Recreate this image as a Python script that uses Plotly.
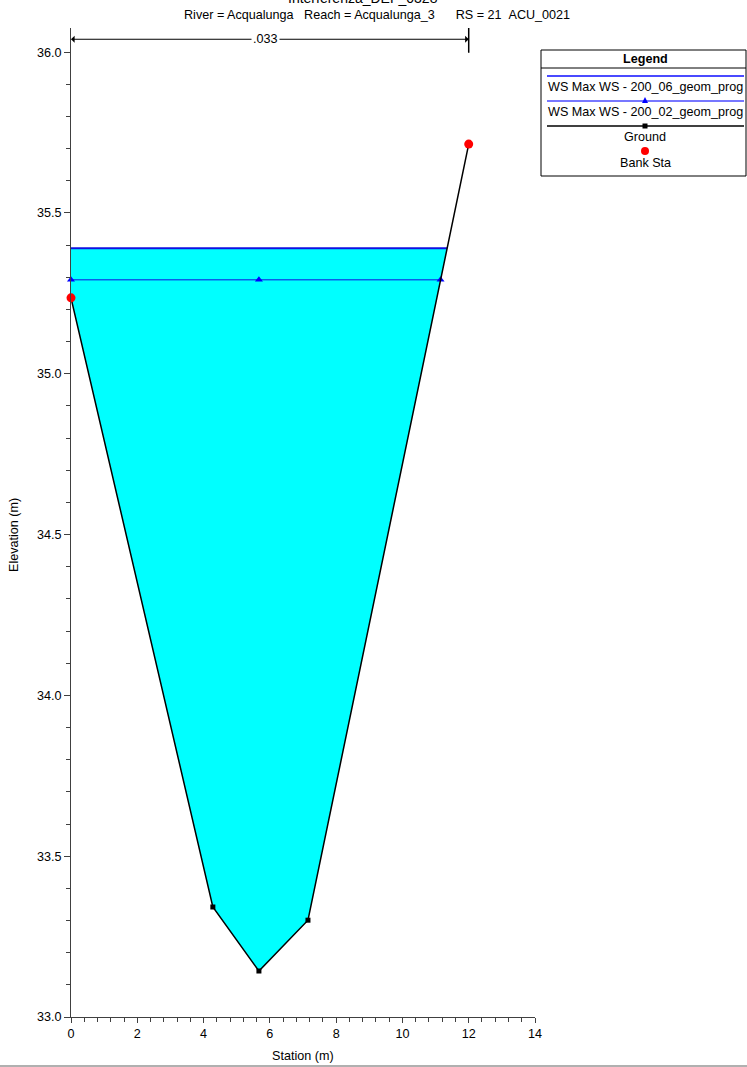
import plotly.graph_objects as go

# ---------------- data ----------------
ground_sta = [0.0, 4.28, 5.67, 7.15, 12.0]
ground_elev = [35.236, 33.342, 33.143, 33.301, 35.714]
bank_sta = [0.0, 12.0]
bank_elev = [35.236, 35.714]
ws06_level = 35.39
ws02_level = 35.292
ws02_marker_sta = [0.0, 5.67, 11.15]
manning_n = ".033"
manning_sta = [0.0, 12.0]

title_top = "Interferenza_DEF_0328"
title_sub = "River = Acqualunga\u00a0\u00a0\u00a0Reach = Acqualunga_3\u00a0\u00a0\u00a0\u00a0\u00a0\u00a0RS = 21\u00a0\u00a0ACU_0021"
legend_names = ["WS Max WS - 200_06_geom_prog", "WS Max WS - 200_02_geom_prog", "Ground", "Bank Sta"]

FONT = "Liberation Sans, Arial, sans-serif"
FS = 12.6
W, H = 747, 1067
L, R, T, B = 71, 535, 28, 1017


def px(x):
    return (x - L) / (R - L)


def py(y):
    return (B - y) / (B - T)


def wet_polygon(sta, elev, ws):
    xs, ys = [], []
    for i in range(len(sta)):
        if elev[i] <= ws:
            xs.append(sta[i]); ys.append(elev[i])
        if i + 1 < len(sta):
            e0, e1 = elev[i], elev[i + 1]
            if (e0 - ws) * (e1 - ws) < 0:
                t = (ws - e0) / (e1 - e0)
                xs.append(sta[i] + t * (sta[i + 1] - sta[i])); ys.append(ws)
    return [xs[0]] + xs + [xs[-1]], [ws] + ys + [ws]


def ws_extent(sta, elev, ws):
    xs, _ = wet_polygon(sta, elev, ws)
    return xs[0], xs[-1]


fig = go.Figure()

# water fill (WS 06)
fx, fy = wet_polygon(ground_sta, ground_elev, ws06_level)
fig.add_trace(go.Scatter(x=fx, y=fy, mode="lines", fill="toself", fillcolor="#00ffff",
                         line=dict(width=0, color="#00ffff"), hoverinfo="skip", showlegend=False))

# WS 06 line
a, b = ws_extent(ground_sta, ground_elev, ws06_level)
fig.add_trace(go.Scatter(x=[a, b], y=[ws06_level, ws06_level], mode="lines",
                         line=dict(color="#1010e0", width=2), showlegend=False))
# WS 02 line
a2, b2 = ws_extent(ground_sta, ground_elev, ws02_level)
fig.add_trace(go.Scatter(x=[a2, b2], y=[ws02_level, ws02_level], mode="lines",
                         line=dict(color="#1010e0", width=1), showlegend=False))
fig.add_trace(go.Scatter(x=ws02_marker_sta, y=[ws02_level] * len(ws02_marker_sta), mode="markers",
                         marker=dict(symbol="triangle-up", size=7, color="#0000ff"),
                         cliponaxis=False, showlegend=False))

# ground
fig.add_trace(go.Scatter(x=ground_sta, y=ground_elev, mode="lines+markers",
                         line=dict(color="black", width=1.5),
                         marker=dict(symbol="square", size=5, color="black"),
                         cliponaxis=False, showlegend=False))
# bank stations
fig.add_trace(go.Scatter(x=bank_sta, y=bank_elev, mode="markers",
                         marker=dict(symbol="circle", size=9, color="#ff0000"),
                         cliponaxis=False, showlegend=False))

annotations = []
shapes = []


def txt(xp, yp, text, size=FS, xa="center", ya="middle", **kw):
    d = dict(x=xp, y=yp, xref="paper", yref="paper", text=text, showarrow=False,
             xanchor=xa, yanchor=ya, font=dict(family=FONT, size=size, color="black"))
    d.update(kw)
    annotations.append(d)


# Manning's n indicator
n_y = 36.04
mid = (manning_sta[0] + manning_sta[1]) / 2
for end in manning_sta:
    annotations.append(dict(x=end, y=n_y, ax=mid, ay=n_y, xref="x", yref="y", axref="x", ayref="y",
                            text="", showarrow=True, arrowhead=1, arrowsize=1.2, arrowwidth=1,
                            arrowcolor="black", standoff=0, startstandoff=0))
annotations.append(dict(x=mid - 0.12, y=n_y, xref="x", yref="y", text=manning_n, showarrow=False,
                        xanchor="center", yanchor="middle",
                        bgcolor="white", font=dict(family=FONT, size=FS, color="black")))
shapes.append(dict(type="line", xref="x", yref="y", x0=manning_sta[1], x1=manning_sta[1],
                   y0=35.998, y1=36.075, line=dict(color="black", width=1.5)))

# titles
txt(px(363), py(8), title_top, size=14, ya="bottom")
txt(px(377), py(15), title_sub)
# axis titles
txt(px(14), py(535), "Elevation (m)", textangle=-90)
txt(px(303), py(1056), "Station (m)")

# legend box
shapes.append(dict(type="rect", xref="paper", yref="paper", x0=px(541), x1=px(746), y0=py(50), y1=py(176),
                   line=dict(color="black", width=1), fillcolor="white"))
shapes.append(dict(type="line", xref="paper", yref="paper", x0=px(541), x1=px(746), y0=py(68), y1=py(68),
                   line=dict(color="black", width=1)))
txt(px(645), py(59), "<b>Legend</b>")
# entry 1
shapes.append(dict(type="line", xref="paper", yref="paper", x0=px(547), x1=px(744), y0=py(76), y1=py(76),
                   line=dict(color="#4a4aff", width=2)))
txt(px(546), py(87), legend_names[0], xa="left")
# entry 2
shapes.append(dict(type="line", xref="paper", yref="paper", x0=px(547), x1=px(744), y0=py(101), y1=py(101),
                   line=dict(color="#4a4aff", width=1.5)))
shapes.append(dict(type="path", xref="paper", yref="paper",
                   path=f"M {px(642)} {py(103)} L {px(648)} {py(103)} L {px(645)} {py(97)} Z",
                   fillcolor="#0000ff", line=dict(width=0)))
txt(px(546), py(112), legend_names[1], xa="left")
# entry 3
shapes.append(dict(type="line", xref="paper", yref="paper", x0=px(547), x1=px(744), y0=py(126), y1=py(126),
                   line=dict(color="black", width=1.5)))
shapes.append(dict(type="rect", xref="paper", yref="paper", x0=px(642.5), x1=px(647.5), y0=py(128.5), y1=py(123.5),
                   fillcolor="black", line=dict(width=0)))
txt(px(645), py(137), legend_names[2])
# entry 4
shapes.append(dict(type="circle", xref="paper", yref="paper", x0=px(641), x1=px(649), y0=py(155), y1=py(147),
                   fillcolor="#ff0000", line=dict(width=0)))
txt(px(645), py(163), legend_names[3])

# page bottom border
shapes.append(dict(type="line", xref="paper", yref="paper", x0=px(0), x1=px(747), y0=py(1066), y1=py(1066),
                   line=dict(color="#b0b0b0", width=2)))

fig.update_layout(
    width=W, height=H,
    margin=dict(l=L, r=W - R, t=T, b=H - B, pad=0),
    paper_bgcolor="white", plot_bgcolor="white",
    showlegend=False,
    font=dict(family=FONT, size=FS, color="black"),
    annotations=annotations, shapes=shapes,
    xaxis=dict(range=[0, 14], tickmode="array", tickvals=[0, 2, 4, 6, 8, 10, 12, 14],
               ticktext=["0", "2", "4", "6", "8", "10", "12", "14"],
               showgrid=False, zeroline=False, showline=True, linecolor="#404040", linewidth=1,
               ticks="outside", ticklen=5, tickcolor="#404040",
               minor=dict(dtick=0.4, tick0=0, ticks="outside", ticklen=4, tickcolor="#404040"),
               tickfont=dict(family=FONT, size=FS, color="black")),
    yaxis=dict(range=[33.0, 36.075], tickmode="array",
               tickvals=[33.0, 33.5, 34.0, 34.5, 35.0, 35.5, 36.0],
               ticktext=["33.0", "33.5", "34.0", "34.5", "35.0", "35.5", "36.0"],
               showgrid=False, zeroline=False, showline=True, linecolor="#404040", linewidth=1,
               ticks="outside", ticklen=6, tickcolor="#404040",
               minor=dict(dtick=0.1, tick0=33.0, ticks="outside", ticklen=4, tickcolor="#404040"),
               tickfont=dict(family=FONT, size=FS, color="black")),
)

fig.write_html("out.html", config={"displayModeBar": False},
               post_script="document.body.style.margin='0';")
